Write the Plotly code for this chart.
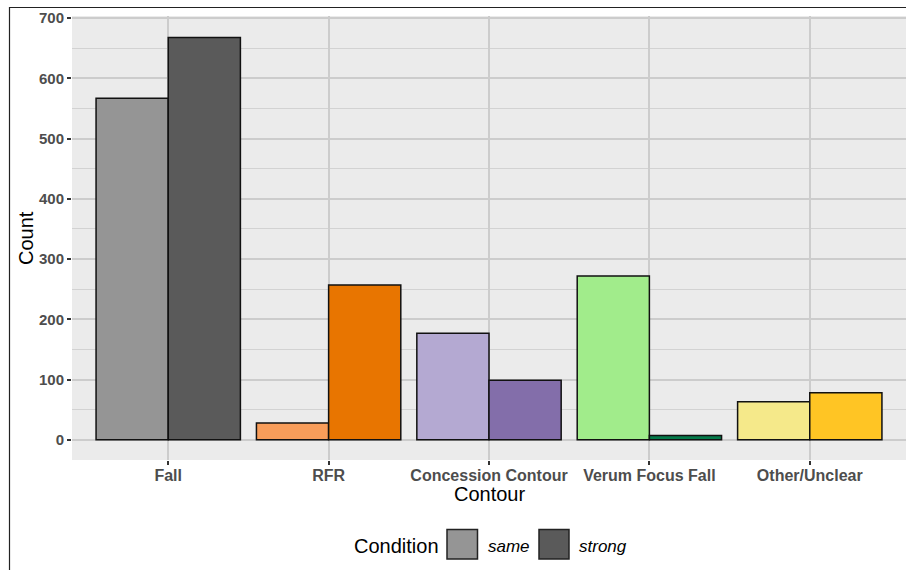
import plotly.graph_objects as go

categories = ["Fall", "RFR", "Concession Contour", "Verum Focus Fall", "Other/Unclear"]
same_counts = [567, 28, 177, 272, 63]
strong_counts = [668, 257, 99, 7, 78]
conditions = ["same", "strong"]

same_colors = ["#959595", "#F89D5A", "#B4A9D2", "#A1EC8B", "#F5E98A"]
strong_colors = ["#5A5A5A", "#E87500", "#836EAA", "#047A4A", "#FFC524"]

W, H = 906, 570
L, R, T, B = 72, 0, 16, 110
PW, PH = W - L - R, H - T - B


def px(x):
    return (x - L) / PW


def py(y):
    return (H - B - y) / PH


fig = go.Figure()
fig.add_trace(go.Bar(
    x=categories, y=same_counts, name=conditions[0], offsetgroup="same",
    marker=dict(color=same_colors, line=dict(color="#111111", width=1.5)),
    showlegend=False,
))
fig.add_trace(go.Bar(
    x=categories, y=strong_counts, name=conditions[1], offsetgroup="strong",
    marker=dict(color=strong_colors, line=dict(color="#111111", width=1.5)),
    showlegend=False,
))

font_family = "Liberation Sans, Arial, sans-serif"

fig.update_layout(
    width=W, height=H,
    margin=dict(l=L, r=R, t=T, b=B),
    paper_bgcolor="white",
    plot_bgcolor="#EBEBEB",
    barmode="group", bargap=0.1, bargroupgap=0,
    font=dict(family=font_family, color="#000000"),
    showlegend=False,
)
fig.update_xaxes(
    range=[-0.6, 4.6], showgrid=True, gridcolor="#CCCCCC", gridwidth=1.6,
    zeroline=False, showline=False,
    ticks="outside", ticklen=4, tickwidth=1.5, tickcolor="#333333",
    ticklabelstandoff=-3,
    tickfont=dict(family=font_family, size=16, color="#4D4D4D", weight="bold"),
)
fig.update_yaxes(
    range=[-33.5, 703.5], dtick=100, tick0=0, showgrid=True, gridcolor="#CCCCCC", gridwidth=1.6,
    zeroline=False, showline=False,
    ticks="outside", ticklen=4, tickwidth=1.5, tickcolor="#333333",
    tickfont=dict(family=font_family, size=15, color="#4D4D4D", weight="bold"),
    minor=dict(dtick=50, tick0=0, showgrid=True, gridcolor="#D2D2D2", gridwidth=0.9, ticks=""),
)

annotations = [
    dict(text="Contour", x=px(489), y=py(494), xref="paper", yref="paper",
         xanchor="center", yanchor="middle", showarrow=False,
         font=dict(size=20, color="#000000", family=font_family)),
    dict(text="Count", x=px(26), y=py(238), xref="paper", yref="paper",
         xanchor="center", yanchor="middle", showarrow=False, textangle=-90,
         font=dict(size=20, color="#000000", family=font_family)),
    dict(text="Condition", x=px(352), y=py(546), xref="paper", yref="paper",
         xanchor="left", yanchor="middle", showarrow=False,
         font=dict(size=20, color="#000000", family=font_family)),
    dict(text="<i>" + conditions[0] + "</i>", x=px(486), y=py(546), xref="paper", yref="paper",
         xanchor="left", yanchor="middle", showarrow=False,
         font=dict(size=17, color="#000000", family=font_family)),
    dict(text="<i>" + conditions[1] + "</i>", x=px(577), y=py(546), xref="paper", yref="paper",
         xanchor="left", yanchor="middle", showarrow=False,
         font=dict(size=17, color="#000000", family=font_family)),
]

shapes = [
    # outer figure border
    dict(type="rect", xref="paper", yref="paper", x0=px(9.5), x1=px(920), y0=py(585), y1=py(7.5),
         line=dict(color="#222222", width=1.2), fillcolor="rgba(0,0,0,0)", layer="above"),
    # legend keys
    dict(type="rect", xref="paper", yref="paper", x0=px(447), x1=px(477.5), y0=py(559), y1=py(529.5),
         line=dict(color="#222222", width=1.5), fillcolor=same_colors[0], layer="above"),
    dict(type="rect", xref="paper", yref="paper", x0=px(539), x1=px(569), y0=py(559), y1=py(529.5),
         line=dict(color="#222222", width=1.5), fillcolor=strong_colors[0], layer="above"),
]

fig.update_layout(annotations=annotations, shapes=shapes)
fig.write_html(
    "out.html",
    config={"displayModeBar": False},
    post_script="document.body.style.margin='0px';document.body.style.overflow='hidden';",
)
